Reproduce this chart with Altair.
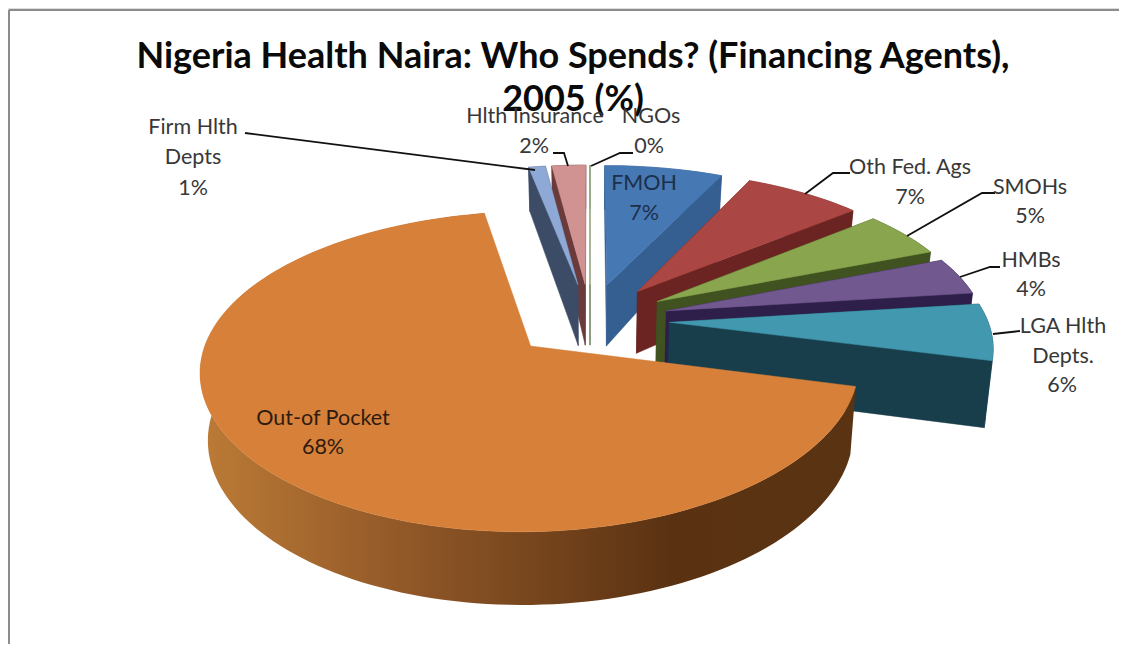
import math
import altair as alt

# ---- chart values -------------------------------------------------------
categories = ["FMOH", "Oth Fed. Ags", "SMOHs", "HMBs", "LGA Hlth Depts.",
              "Out-of Pocket", "Firm Hlth Depts", "Hlth Insurance", "NGOs"]
shares = [7, 7, 5, 4, 6, 68, 1, 2, 0]
top_colors = ["#4679B4", "#AA4643", "#89A54E", "#71588F", "#4198AF",
              "#D7803A", "#8FA9D6", "#D09392", "#C9D6B8"]
wall_colors = ["#345F90", "#6B2422", "#3F5220", "#2E1F4A", "#183E4C",
               "#7A4A1E", "#3D4C66", "#6B3A3A", "#5E7040"]
title_lines = ["Nigeria Health Naira: Who Spends? (Financing Agents),", "2005 (%)"]

# ---- 3-D pie geometry ---------------------------------------------------
CX, CY = 582, 312      # pie axis, chart pixels
FX, FY = 318, 148      # horizontal / vertical scale
PERSP_X, PERSP_Y = 0.14, 0.155   # perspective strength
EXPLODE = 0.25         # every slice is pulled out by this share of the radius
LOW_SHRINK = 0.98      # verticals converge towards the floor


def depth(Y):
    return 65 - 7 * Y if Y < 0 else 65 - 17 * Y


def proj(X, Y, low=False):
    sx = FX * X / (1 + PERSP_X * Y)
    w = 1 + PERSP_Y * Y
    sy = CY - FY * Y / w
    if low:
        sy += depth(Y)
        sx *= LOW_SHRINK
    return [CX + sx, sy]


def slice_points(a0, a1, low=False):
    """Outer arc and apex of one exploded slice."""
    mid = (a0 + a1) / 2
    ox, oy = EXPLODE * math.sin(mid), EXPLODE * math.cos(mid)
    n = max(2, int((a1 - a0) / 0.03))
    arc = []
    for i in range(n + 1):
        t = a0 + (a1 - a0) * i / n
        arc.append(proj(ox + math.sin(t), oy + math.cos(t), low))
    return proj(ox, oy, low), arc


def polygon(points, color, name):
    ring = points + [points[0]]
    return {"type": "Feature", "properties": {"color": color, "name": name},
            "geometry": {"type": "Polygon", "coordinates": [ring]}}


def slice_features(i, a0, a1):
    apex_t, arc_t = slice_points(a0, a1)
    apex_b, arc_b = slice_points(a0, a1, True)
    w = wall_colors[i]
    name = categories[i]
    walls = [
        polygon([apex_t, arc_t[0], arc_b[0], apex_b], w, name),
        polygon([apex_t, arc_t[-1], arc_b[-1], apex_b], w, name),
    ]
    outer = polygon(arc_t + arc_b[::-1], w, name)
    top = polygon([apex_t] + arc_t, top_colors[i], name)
    return walls, outer, top


total = sum(shares)
spans = []
acc = 0
for s in shares:
    a0 = acc / total * 2 * math.pi
    acc += s
    spans.append((a0, acc / total * 2 * math.pi))

# paint from the back of the pie to the front
paint_order = [8, 7, 6, 0, 1, 2, 3, 4]
back = []
for i in paint_order:
    walls, outer, top = slice_features(i, *spans[i])
    back += [outer] + walls + [top]

oop_walls, oop_outer, oop_top = slice_features(5, *spans[5])

leaders = [
    [[237, 125], [527, 162]],
    [[545, 145], [556, 145], [560, 158]],
    [[583, 158], [612, 145], [625, 145]],
    [[797, 186], [825, 165], [842, 165]],
    [[899, 228], [974, 185], [987, 185]],
    [[952, 269], [982, 259], [992, 259]],
    [[985, 326], [1012, 323]],
]
leader_features = [
    {"type": "Feature", "properties": {},
     "geometry": {"type": "LineString", "coordinates": c}} for c in leaders
]

GREY, NAVY, BROWN = "#383838", "#1D2F4A", "#2E1C10"
labels = [
    {"t": "Firm Hlth", "px": 185, "py": 120, "c": GREY},
    {"t": "Depts", "px": 185, "py": 150, "c": GREY},
    {"t": "1%", "px": 185, "py": 181, "c": GREY},
    {"t": "Hlth Insurance", "px": 527, "py": 109, "c": GREY},
    {"t": "2%", "px": 526, "py": 139, "c": GREY},
    {"t": "NGOs", "px": 643, "py": 109, "c": GREY},
    {"t": "0%", "px": 641, "py": 139, "c": GREY},
    {"t": "FMOH", "px": 636, "py": 176, "c": NAVY},
    {"t": "7%", "px": 636, "py": 206, "c": NAVY},
    {"t": "Oth Fed. Ags", "px": 902, "py": 160, "c": GREY},
    {"t": "7%", "px": 902, "py": 190, "c": GREY},
    {"t": "SMOHs", "px": 1022, "py": 180, "c": GREY},
    {"t": "5%", "px": 1022, "py": 209, "c": GREY},
    {"t": "HMBs", "px": 1023, "py": 253, "c": GREY},
    {"t": "4%", "px": 1023, "py": 282, "c": GREY},
    {"t": "LGA Hlth", "px": 1055, "py": 319, "c": GREY},
    {"t": "Depts.", "px": 1055, "py": 349, "c": GREY},
    {"t": "6%", "px": 1054, "py": 378, "c": GREY},
    {"t": "Out-of Pocket", "px": 315, "py": 411, "c": BROWN},
    {"t": "68%", "px": 315, "py": 440, "c": BROWN},
]
titles = [
    {"t": title_lines[0], "px": 565, "py": 49},
    {"t": title_lines[1], "px": 565, "py": 92},
]
borders = [{"x": 1, "x2": 1111, "y": 2, "y2": 2}, {"x": 1, "x2": 1, "y": 2, "y2": 636}]

proj_spec = dict(type="identity", scale=1, translate=[0, 0])
NOSCALE = dict(scale=None, axis=None)

colored = alt.Color("properties.color:N", scale=None, legend=None)
colored_s = alt.Stroke("properties.color:N", scale=None, legend=None)

border = alt.Chart(alt.Data(values=borders)).mark_rule(color="#8c8c8c", strokeWidth=2).encode(
    x=alt.X("x:Q", **NOSCALE), x2="x2:Q", y=alt.Y("y:Q", **NOSCALE), y2="y2:Q")

back_layer = alt.Chart(alt.Data(values=back)).mark_geoshape(strokeWidth=0.5).encode(
    color=colored, stroke=colored_s).project(**proj_spec)

oop_side = alt.Chart(alt.Data(values=[oop_outer])).mark_geoshape(
    fill=alt.Gradient(
        gradient="linear", x1=0, x2=1, y1=0, y2=0,
        stops=[alt.GradientStop(color="#BC7B36", offset=0),
               alt.GradientStop(color="#8C5426", offset=0.35),
               alt.GradientStop(color="#5A3212", offset=0.72),
               alt.GradientStop(color="#5A3412", offset=1)])
).project(**proj_spec)

oop_face = alt.Chart(alt.Data(values=[oop_top])).mark_geoshape(
    fill=top_colors[5], stroke=top_colors[5], strokeWidth=0.5).project(**proj_spec)

lines = alt.Chart(alt.Data(values=leader_features)).mark_geoshape(
    filled=False, stroke="#111111", strokeWidth=1.8).project(**proj_spec)

label_layer = alt.Chart(alt.Data(values=labels)).mark_text(
    font="Lato", fontSize=21.5, align="center", baseline="middle").encode(
    x=alt.X("px:Q", **NOSCALE), y=alt.Y("py:Q", **NOSCALE), text="t:N",
    color=alt.Color("c:N", scale=None, legend=None))

title_layer = alt.Chart(alt.Data(values=titles)).mark_text(
    font="Lato", fontSize=36, fontWeight="bold", color="#0a0a0a", align="center", baseline="middle").encode(
    x=alt.X("px:Q", **NOSCALE), y=alt.Y("py:Q", **NOSCALE), text="t:N")

chart = alt.layer(border, back_layer, oop_side, oop_face, lines, title_layer, label_layer).properties(
    width=1111, height=636, padding=0, autosize=alt.AutoSizeParams(type="none")
).configure_view(stroke=None).configure(background="white")

chart.save("out.html", embed_options={"renderer": "svg", "actions": False})
